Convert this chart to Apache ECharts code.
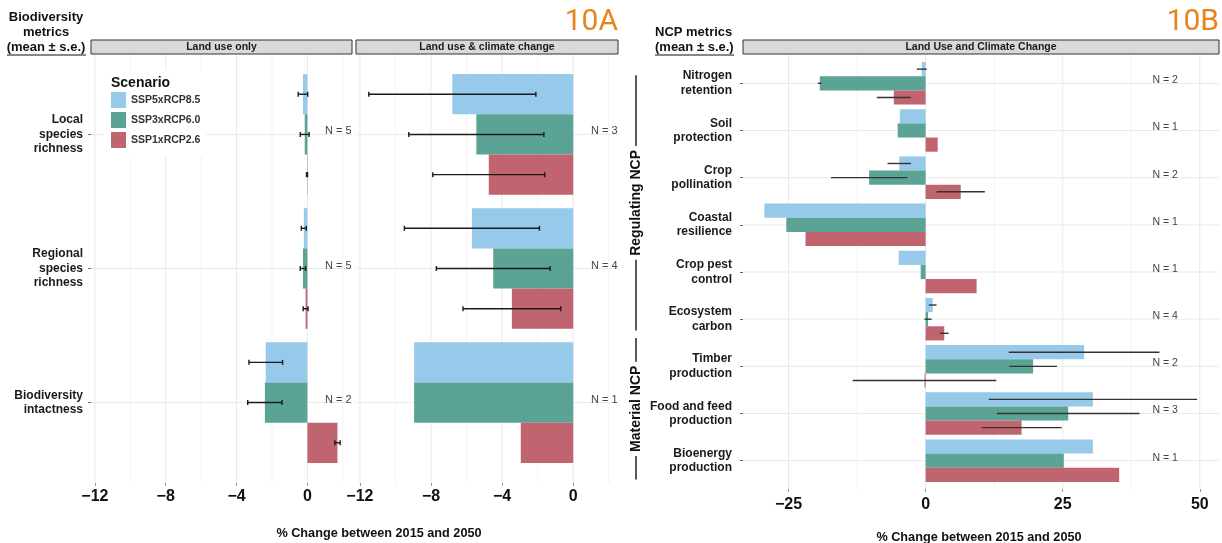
<!DOCTYPE html>
<html><head><meta charset="utf-8">
<script src="https://cdn.jsdelivr.net/npm/echarts@6/dist/echarts.min.js"></script>
<style>html,body{margin:0;padding:0;background:#fff}#c{width:1222px;height:543px}</style>
</head><body><div id="c"></div>
<script>
// ---------------- DATA ----------------
const scenarios = ['SSP5xRCP8.5', 'SSP3xRCP6.0', 'SSP1xRCP2.6'];

const bioMetrics = ['Local\nspecies\nrichness', 'Regional\nspecies\nrichness', 'Biodiversity\nintactness'];
const bioN_landUse = [5, 5, 2];
const bioN_landClimate = [3, 4, 1];

// Land use only (mean, s.e.)
const lu_SSP5_mean = [-0.25, -0.2, -2.35];
const lu_SSP5_se   = [0.27, 0.14, 0.95];
const lu_SSP3_mean = [-0.15, -0.25, -2.4];
const lu_SSP3_se   = [0.25, 0.15, 0.97];
const lu_SSP1_mean = [-0.02, -0.1, 1.7];
const lu_SSP1_se   = [0.03, 0.14, 0.15];

// Land use & climate change (mean, s.e.)
const lucc_SSP5_mean = [-6.8, -5.7, -8.95];
const lucc_SSP5_se   = [4.7, 3.8, null];
const lucc_SSP3_mean = [-5.45, -4.5, -8.95];
const lucc_SSP3_se   = [3.8, 3.2, null];
const lucc_SSP1_mean = [-4.75, -3.45, -2.95];
const lucc_SSP1_se   = [3.15, 2.75, null];

const ncpMetrics = ['Nitrogen\nretention', 'Soil\nprotection', 'Crop\npollination', 'Coastal\nresilience',
  'Crop pest\ncontrol', 'Ecosystem\ncarbon', 'Timber\nproduction', 'Food and feed\nproduction', 'Bioenergy\nproduction'];
const ncpN = [2, 1, 2, 1, 1, 4, 2, 3, 1];
const ncp_SSP5_mean = [-0.7, -4.7, -4.8, -29.4, -4.9, 1.3, 28.9, 30.5, 30.5];
const ncp_SSP5_se   = [0.9, null, 2.15, null, null, 0.7, 13.75, 19, null];
const ncp_SSP3_mean = [-19.3, -5.1, -10.3, -25.4, -0.9, 0.45, 19.6, 26.0, 25.2];
const ncp_SSP3_se   = [0.35, null, 6.95, null, null, 0.65, 4.35, 13, null];
const ncp_SSP1_mean = [-5.8, 2.2, 6.4, -21.9, 9.3, 3.4, -0.2, 17.5, 35.3];
const ncp_SSP1_se   = [3.1, null, 4.4, null, null, 0.8, 13.1, 7.3, null];
const ncpGroupNames = ['Regulating NCP', 'Material NCP'];
const ncpGroupFirst = [0, 6];
const ncpGroupLast  = [5, 8];

const ticksA = [-12, -8, -4, 0];
const minorA = [-10, -6, -2, 2];
const ticksB = [-25, 0, 25, 50];
const minorB = [-12.5, 12.5, 37.5];

// ---------------- STYLE / LAYOUT ----------------
const FONT = '"Liberation Sans", Arial, sans-serif';
const colors = ['#96c9ea', '#5ba394', '#c0646f'];
const gA1 = {left: 91, width: 261, top: 54, bottom: 60};
const gA2 = {left: 356, width: 262, top: 54, bottom: 60};
const gB  = {left: 743, width: 476, top: 55, bottom: 54};
const xRangeA = [-12.22, 2.52];
const xRangeB = [-33.3, 53.5];
const nLabelXA = 1.75, nLabelXB = 43.7;
const bracketPad = [[-0.17, 0.24], [-0.6, 0.4]];

const chart = echarts.init(document.getElementById('c'), null, {renderer: 'canvas'});

const fmtNum = v => v < 0 ? '\u2212' + Math.abs(v) : String(v);

function xAx(gi, range, ticks, margin) {
  return {
    type: 'value', gridIndex: gi, min: range[0], max: range[1],
    axisLine: {show: false, onZero: false}, splitLine: {show: false},
    axisTick: {show: true, customValues: ticks, length: 3, lineStyle: {color: '#999'}},
    axisLabel: {customValues: ticks, margin: margin, fontSize: 16, fontWeight: 'bold', color: '#111',
      fontFamily: FONT, formatter: fmtNum}
  };
}
function yAx(gi, labels, show, margin) {
  const idx = labels.map((_, i) => i);
  return {
    type: 'value', gridIndex: gi, min: -0.6, max: labels.length - 1 + 0.6, inverse: true,
    axisLine: {show: false, onZero: false}, splitLine: {show: false},
    axisTick: {show: show, customValues: idx, length: 3, lineStyle: {color: '#666'}},
    axisLabel: {show: show, customValues: idx, margin: margin, fontSize: 12, fontWeight: 'bold',
      lineHeight: 14.5, color: '#1a1a1a', fontFamily: FONT, align: 'right',
      formatter: v => labels[Math.round(v)] || ''}
  };
}

function vGrid(gi, values, color) {
  return {
    type: 'custom', xAxisIndex: gi, yAxisIndex: gi, silent: true, z: 1,
    data: values.map(v => [v, 0]), encode: {x: 0, y: 1},
    renderItem: (params, api) => {
      const cs = params.coordSys;
      const x = api.coord([api.value(0), 0])[0];
      return {type: 'line', shape: {x1: x, y1: cs.y, x2: x, y2: cs.y + cs.height},
        style: {stroke: color, lineWidth: 1}};
    }
  };
}
function hGrid(gi, n, color) {
  const d = [];
  for (let i = 0; i < n; i++) d.push([0, i]);
  return {
    type: 'custom', xAxisIndex: gi, yAxisIndex: gi, silent: true, z: 1,
    data: d, encode: {x: 0, y: 1},
    renderItem: (params, api) => {
      const cs = params.coordSys;
      const y = api.coord([0, api.value(1)])[1];
      return {type: 'line', shape: {x1: cs.x, y1: y, x2: cs.x + cs.width, y2: y},
        style: {stroke: color, lineWidth: 1}};
    }
  };
}

function barSeries(gi, j, means, ses, caps, errColor) {
  return {
    type: 'custom', name: scenarios[j], xAxisIndex: gi, yAxisIndex: gi, z: 3,
    itemStyle: {color: colors[j]},
    data: means.map((m, i) => [m, i, ses[i] == null ? NaN : ses[i]]),
    encode: {x: 0, y: 1},
    renderItem: (params, api) => {
      const mean = api.value(0), idx = api.value(1), se = api.value(2);
      const p0 = api.coord([0, idx]);
      const p1 = api.coord([mean, idx]);
      const unit = Math.abs(api.size([0, 1])[1]);
      const h = unit * 0.3;
      const yc = p0[1] + (j - 1) * h;
      const ch = [{type: 'rect',
        shape: {x: Math.min(p0[0], p1[0]), y: yc - h / 2, width: Math.abs(p1[0] - p0[0]), height: h},
        style: {fill: api.visual('color')}}];
      if (isFinite(se)) {
        const a = api.coord([mean - se, idx]), b = api.coord([mean + se, idx]);
        ch.push({type: 'line', shape: {x1: a[0], y1: yc, x2: b[0], y2: yc},
          style: {stroke: errColor, lineWidth: 1.4}});
        if (caps) {
          ch.push({type: 'line', shape: {x1: a[0], y1: yc - 2.5, x2: a[0], y2: yc + 2.5}, style: {stroke: errColor, lineWidth: 1.4}});
          ch.push({type: 'line', shape: {x1: b[0], y1: yc - 2.5, x2: b[0], y2: yc + 2.5}, style: {stroke: errColor, lineWidth: 1.4}});
        }
      }
      return {type: 'group', children: ch};
    }
  };
}

function nSeries(gi, ns, xv, fs) {
  return {
    type: 'custom', xAxisIndex: gi, yAxisIndex: gi, silent: true, z: 4,
    data: ns.map((n, i) => [xv, i, n]), encode: {x: 0, y: 1},
    renderItem: (params, api) => {
      const p = api.coord([api.value(0), api.value(1)]);
      return {type: 'text', x: p[0], y: p[1] - 3,
        style: {text: 'N = ' + api.value(2), fill: '#444', font: fs + 'px ' + FONT, align: 'center', verticalAlign: 'middle'}};
    }
  };
}

const series = [
  vGrid(0, minorA, '#f3f3f3'), vGrid(0, ticksA, '#e9e9e9'), hGrid(0, bioMetrics.length, '#e9e9e9'),
  vGrid(1, minorA, '#f3f3f3'), vGrid(1, ticksA, '#e9e9e9'), hGrid(1, bioMetrics.length, '#e9e9e9'),
  vGrid(2, minorB, '#f3f3f3'), vGrid(2, ticksB, '#e9e9e9'), hGrid(2, ncpMetrics.length, '#e9e9e9'),
  barSeries(0, 0, lu_SSP5_mean, lu_SSP5_se, true, '#1a1a1a'),
  barSeries(0, 1, lu_SSP3_mean, lu_SSP3_se, true, '#1a1a1a'),
  barSeries(0, 2, lu_SSP1_mean, lu_SSP1_se, true, '#1a1a1a'),
  barSeries(1, 0, lucc_SSP5_mean, lucc_SSP5_se, true, '#1a1a1a'),
  barSeries(1, 1, lucc_SSP3_mean, lucc_SSP3_se, true, '#1a1a1a'),
  barSeries(1, 2, lucc_SSP1_mean, lucc_SSP1_se, true, '#1a1a1a'),
  barSeries(2, 0, ncp_SSP5_mean, ncp_SSP5_se, false, '#333'),
  barSeries(2, 1, ncp_SSP3_mean, ncp_SSP3_se, false, '#333'),
  barSeries(2, 2, ncp_SSP1_mean, ncp_SSP1_se, false, '#333'),
  nSeries(0, bioN_landUse, nLabelXA, 11),
  nSeries(1, bioN_landClimate, nLabelXA, 11),
  nSeries(2, ncpN, nLabelXB, 10.5)
];

chart.setOption({
  animation: false,
  backgroundColor: '#fff',
  grid: [
    {left: gA1.left, width: gA1.width, top: gA1.top, bottom: gA1.bottom},
    {left: gA2.left, width: gA2.width, top: gA2.top, bottom: gA2.bottom},
    {left: gB.left, width: gB.width, top: gB.top, bottom: gB.bottom}
  ],
  xAxis: [xAx(0, xRangeA, ticksA, 6), xAx(1, xRangeA, ticksA, 6), xAx(2, xRangeB, ticksB, 8)],
  yAxis: [yAx(0, bioMetrics, true, 8), yAx(1, bioMetrics, false, 8), yAx(2, ncpMetrics, true, 11)],
  legend: {
    data: scenarios, orient: 'vertical', left: 111, top: 92, icon: 'rect', itemWidth: 15, itemHeight: 16,
    itemGap: 4, padding: 0, selectedMode: false,
    textStyle: {fontSize: 10.5, fontWeight: 'bold', color: '#333', fontFamily: FONT}
  },
  series: series
});

// ---------------- Decorations ----------------
const g = [];
function strip(gr, label) {
  g.push({type: 'rect', shape: {x: gr.left, y: 40, width: gr.width, height: 14},
    style: {fill: '#d9d9d9', stroke: '#333', lineWidth: 1}, z: 5});
  g.push({type: 'text', x: gr.left + gr.width / 2, y: 47,
    style: {text: label, font: 'bold 10.5px ' + FONT, fill: '#1a1a1a', align: 'center', verticalAlign: 'middle'}, z: 6});
}
strip(gA1, 'Land use only');
strip(gA2, 'Land use & climate change');
strip(gB, 'Land Use and Climate Change');

function txt(x, y, s, font, fill, align) {
  g.push({type: 'text', x: x, y: y, style: {text: s, font: font, fill: fill, align: align || 'center', verticalAlign: 'middle'}, z: 6});
}
const tf = 'bold 13px ' + FONT;
txt(46, 17, 'Biodiversity', tf, '#111');
txt(46, 32, 'metrics', tf, '#111');
txt(46, 47, '(mean \u00b1 s.e.)', tf, '#111');
g.push({type: 'line', shape: {x1: 7, y1: 55, x2: 86, y2: 55}, style: {stroke: '#111', lineWidth: 1}, z: 6});
txt(655, 32, 'NCP metrics', tf, '#111', 'left');
txt(655, 47, '(mean \u00b1 s.e.)', tf, '#111', 'left');
g.push({type: 'line', shape: {x1: 655, y1: 55, x2: 734, y2: 55}, style: {stroke: '#111', lineWidth: 1}, z: 6});
txt(618, 22, '10A', '30px Roboto, ' + FONT, '#e8841c', 'right');
txt(1219, 22, '10B', '30px Roboto, ' + FONT, '#e8841c', 'right');
txt(379, 533, '% Change between 2015 and 2050', 'bold 12.7px ' + FONT, '#111');
txt(979, 537, '% Change between 2015 and 2050', 'bold 12.7px ' + FONT, '#111');

// legend backdrop + title
g.push({type: 'rect', shape: {x: 104, y: 70, width: 102, height: 86}, style: {fill: '#fff'}, z: 3});
txt(111, 83, 'Scenario', 'bold 14px ' + FONT, '#111', 'left');

// bracket groups for NCP
const cv = document.createElement('canvas').getContext('2d');
const bf = 'bold 14px ' + FONT;
cv.font = bf;
for (let k = 0; k < ncpGroupNames.length; k++) {
  const y0 = chart.convertToPixel({yAxisIndex: 2}, ncpGroupFirst[k] + bracketPad[k][0]);
  const y1 = chart.convertToPixel({yAxisIndex: 2}, ncpGroupLast[k] + bracketPad[k][1]);
  const mid = (y0 + y1) / 2;
  const w = cv.measureText(ncpGroupNames[k]).width;
  const x = 636;
  g.push({type: 'line', shape: {x1: x, y1: y0, x2: x, y2: mid - w / 2 - 4}, style: {stroke: '#222', lineWidth: 1.5}, z: 6});
  g.push({type: 'line', shape: {x1: x, y1: mid + w / 2 + 4, x2: x, y2: y1}, style: {stroke: '#222', lineWidth: 1.5}, z: 6});
  g.push({type: 'text', x: x, y: mid, rotation: Math.PI / 2,
    style: {text: ncpGroupNames[k], font: bf, fill: '#111', align: 'center', verticalAlign: 'middle'}, z: 6});
}

chart.setOption({graphic: {elements: g}});
</script></body></html>
